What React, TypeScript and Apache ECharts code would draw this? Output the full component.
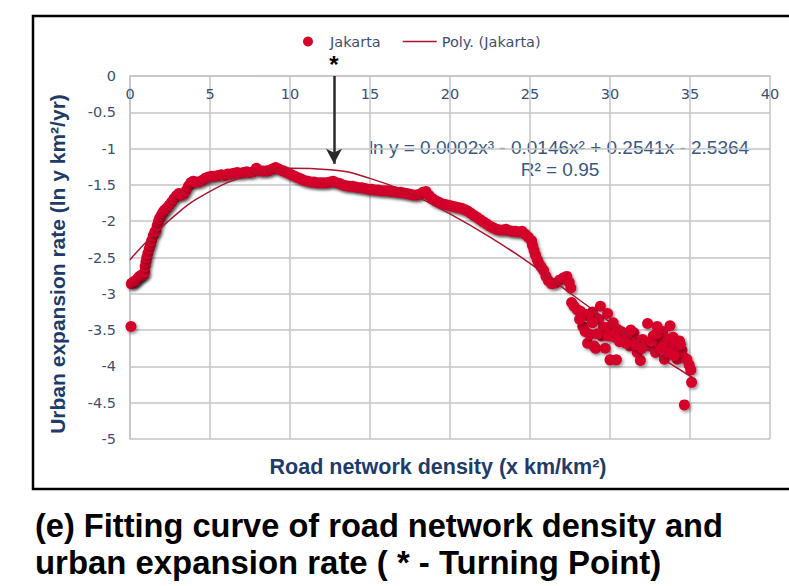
import React, { useEffect, useRef } from 'react';
import * as echarts from 'echarts';

// Scatter: road network density (x) vs ln urban expansion rate (y)
const roadDensity = [
  0.06, 0.08, 0.15, 0.25, 0.35, 0.45, 0.55, 0.65, 0.75, 0.85, 0.92,
  0.95, 1.0, 1.05, 1.12, 1.2, 1.28, 1.35, 1.45, 1.55, 1.62, 1.7, 1.78, 1.85, 1.95,
  2.05, 2.15, 2.3, 2.45, 2.6, 2.75, 2.9, 3.05, 3.2, 3.35, 3.5, 3.65, 3.8, 3.95,
  4.1, 4.3, 4.5, 4.7, 4.9, 5.1, 5.3, 5.5, 5.7, 5.9, 6.1, 6.3, 6.5, 6.7, 6.9,
  7.1, 7.3, 7.5, 7.7, 7.9, 8.1, 8.3, 8.5, 8.7, 8.9, 9.1, 9.3, 9.5, 9.7, 9.9,
  10.1, 10.3, 10.5, 10.7, 10.9, 11.1, 11.3, 11.5, 11.7, 11.9, 12.1, 12.3, 12.5,
  12.7, 12.9, 13.1, 13.3, 13.5, 13.7, 13.9, 14.1, 14.3, 14.5, 14.7, 14.9, 15.1,
  15.3, 15.5, 15.7, 15.9, 16.1, 16.3, 16.5, 16.7, 16.9, 17.1, 17.3, 17.5, 17.7,
  17.9, 18.1, 18.3, 18.5, 18.7, 18.9, 19.1, 19.3, 19.5, 19.7, 19.9, 20.1, 20.3,
  20.5, 20.7, 20.9, 21.1, 21.3, 21.5, 21.7, 21.9, 22.1, 22.3, 22.5, 22.7, 22.9,
  23.1, 23.3, 23.5, 23.7, 23.9, 24.1, 24.3, 24.5, 24.7, 24.9, 25.1, 25.15, 25.25,
  25.35, 25.45, 25.55, 25.7, 25.85, 26.0, 26.15, 26.35, 26.6, 26.85, 27.1, 27.3,
  27.45, 27.55, 27.6, 27.75, 27.95, 28.15, 28.3, 28.45, 28.6, 28.75, 28.9, 29.0,
  29.1, 29.3, 29.4, 29.5, 29.6, 29.7, 29.85, 30.0, 30.0, 30.2, 30.4, 30.45, 30.7,
  30.9, 31.05, 31.25, 31.4, 31.5, 31.7, 31.9, 32.05, 32.2, 32.35, 32.5, 32.7,
  32.85, 32.95, 33.1, 33.3, 33.4, 33.55, 33.75, 33.8, 33.95, 34.1, 34.2, 34.35,
  34.5, 34.65, 34.8, 34.95, 35.05, 35.1, 34.65, 28.4, 28.6, 28.1,
  28.9, 29.2, 29.9, 30.3, 30.6, 31.0, 31.3, 31.6, 32.0, 32.6, 32.9, 33.2, 33.6, 34.0, 34.4
];
const expansionRate = [
  -3.45, -2.86, -2.85, -2.83, -2.82, -2.8, -2.77, -2.75, -2.74, -2.73, -2.7,
  -2.62, -2.56, -2.5, -2.44, -2.38, -2.32, -2.27, -2.2, -2.15, -2.13, -2.06, -2.0, -1.96, -1.92,
  -1.88, -1.85, -1.82, -1.78, -1.74, -1.69, -1.65, -1.62, -1.64, -1.63, -1.58, -1.52, -1.47, -1.45,
  -1.46, -1.46, -1.44, -1.41, -1.39, -1.38, -1.38, -1.37, -1.36, -1.37, -1.35, -1.35, -1.34, -1.33, -1.34,
  -1.33, -1.32, -1.33, -1.32, -1.27, -1.31, -1.31, -1.31, -1.3, -1.28, -1.26, -1.28, -1.3, -1.32, -1.34,
  -1.36, -1.38, -1.4, -1.42, -1.44, -1.45, -1.46, -1.46, -1.47, -1.47, -1.47, -1.47, -1.46,
  -1.45, -1.47, -1.48, -1.5, -1.51, -1.52, -1.52, -1.53, -1.54, -1.54, -1.55, -1.56, -1.56,
  -1.57, -1.57, -1.58, -1.58, -1.58, -1.59, -1.59, -1.6, -1.6, -1.61, -1.62, -1.63, -1.64,
  -1.64, -1.63, -1.6, -1.59, -1.65, -1.69, -1.72, -1.74, -1.76, -1.77, -1.78, -1.79, -1.8,
  -1.81, -1.82, -1.84, -1.86, -1.89, -1.92, -1.95, -1.98, -2.01, -2.04, -2.07, -2.09, -2.11,
  -2.12, -2.12, -2.11, -2.13, -2.14, -2.14, -2.15, -2.14, -2.18, -2.22, -2.27, -2.33, -2.4,
  -2.47, -2.53, -2.58, -2.63, -2.68, -2.76, -2.82, -2.86, -2.85, -2.81, -2.78, -2.76,
  -2.84, -2.92, -3.12, -3.17, -3.22, -3.24, -3.45, -3.52, -3.68, -3.56, -3.25, -3.72,
  -3.75, -3.35, -3.17, -3.58, -3.46, -3.75, -3.27, -3.45, -3.91, -3.4, -3.91, -3.49, -3.52,
  -3.59, -3.55, -3.72, -3.62, -3.54, -3.81, -3.92, -3.63, -3.68, -3.41, -3.72, -3.58,
  -3.81, -3.45, -3.66, -3.52, -3.9, -3.62, -3.44, -3.7, -3.6, -3.72, -3.9, -3.65,
  -3.78, -3.88, -3.9, -3.98, -4.05, -4.22, -4.53, -3.28, -3.3, -3.35,
  -3.4, -3.55, -3.58, -3.6, -3.66, -3.68, -3.5, -3.7, -3.75, -3.65, -3.55, -3.75, -3.8, -3.85, -3.7
];

// Polynomial trend line
const trendDensity = [0, 2.5, 5, 7.5, 10, 12.5, 15, 17.5, 20, 22.5, 25, 27.5, 30, 32.5, 35.2];
const trendRate = [-2.53, -1.98, -1.59, -1.37, -1.27, -1.29, -1.41, -1.62, -1.9, -2.22, -2.58, -2.99, -3.39, -3.78, -4.16];

// Turning point marker
const turningPoint = 12.75;
const arrowEnd = -1.21;

const tickColor = '#3C4F6E';
const navy = '#1F3B67';
const gridColor = '#C4C4C4';
const dotColor = '#D4062B';
const trendColor = '#A8152C';

export default function App() {
  const ref = useRef<HTMLDivElement>(null);
  useEffect(() => {
    const chart = echarts.init(ref.current!, null, { renderer: 'svg' });
    const scatterData = roadDensity.map((x, i) => [x, expansionRate[i]]);
    const trendData = trendDensity.map((x, i) => [x, trendRate[i]]);
    chart.setOption({
      animation: false,
      backgroundColor: '#ffffff',
      grid: { left: 130, top: 76, width: 640, height: 363, containLabel: false },
      legend: {
        left: 303,
        top: 34,
        padding: 0,
        itemWidth: 34,
        itemHeight: 10,
        itemGap: 22,
        textStyle: { fontFamily: 'DejaVu Sans', fontSize: 14.5, color: tickColor },
        data: [
          { name: 'Jakarta', icon: 'circle' },
          { name: 'Poly. (Jakarta)', icon: 'path://M0,0L40,0L40,2L0,2Z' },
        ],
      },
      xAxis: {
        type: 'value',
        min: 0,
        max: 40,
        interval: 5,
        position: 'top',
        axisLine: { show: true, lineStyle: { color: gridColor, width: 1.5 } },
        axisTick: { show: false },
        axisLabel: { inside: true, margin: 10, color: tickColor, fontFamily: 'DejaVu Sans', fontSize: 14.5 },
        splitLine: { show: true, lineStyle: { color: gridColor, width: 1.5 } },
      },
      yAxis: {
        type: 'value',
        min: -5,
        max: 0,
        interval: 0.5,
        axisLine: { show: true, lineStyle: { color: gridColor, width: 1.5 } },
        axisTick: { show: false },
        axisLabel: { margin: 14, color: tickColor, fontFamily: 'DejaVu Sans', fontSize: 14.5 },
        splitLine: { show: true, lineStyle: { color: gridColor, width: 1.5 } },
      },
      series: [
        {
          name: 'Jakarta',
          type: 'scatter',
          data: scatterData,
          symbolSize: 11,
          z: 2,
          itemStyle: {
            color: dotColor,
            opacity: 1,
            shadowColor: 'rgba(0,0,0,0.4)',
            shadowBlur: 3,
            shadowOffsetX: 1.5,
            shadowOffsetY: 2,
          },
          emphasis: { disabled: true },
        },
        {
          name: 'Poly. (Jakarta)',
          type: 'line',
          data: trendData,
          smooth: true,
          symbol: 'none',
          z: 3,
          itemStyle: { color: trendColor },
          lineStyle: { color: trendColor, width: 1.5 },
          emphasis: { disabled: true },
          markLine: {
            silent: true,
            symbol: ['none', 'arrow'],
            symbolSize: [12, 15],
            lineStyle: { color: '#2A2A2A', width: 2.5, type: 'solid' },
            label: {
              show: true,
              position: 'start',
              formatter: '*',
              distance: 0,
              color: '#000000',
              fontSize: 24,
              fontWeight: 'bold',
              fontFamily: 'Liberation Sans',
            },
            data: [[{ coord: [turningPoint, 0] }, { coord: [turningPoint, arrowEnd] }]],
          },
        },
      ],
      graphic: [
        {
          type: 'rect',
          silent: true,
          shape: { x: 33, y: 16, width: 800, height: 473 },
          style: { fill: 'none', stroke: '#000000', lineWidth: 2.5 },
        },
        {
          type: 'text',
          x: 57,
          y: 264,
          rotation: Math.PI / 2,
          style: {
            text: 'Urban expansion rate (ln y km²/yr)',
            font: 'bold 21px "Liberation Sans"',
            fill: navy,
            textAlign: 'center',
            textVerticalAlign: 'middle',
          },
        },
        {
          type: 'text',
          x: 438,
          y: 467,
          style: {
            text: 'Road network density (x km/km²)',
            font: 'bold 21.5px "Liberation Sans"',
            fill: navy,
            textAlign: 'center',
            textVerticalAlign: 'middle',
          },
        },
        {
          type: 'text',
          x: 559,
          y: 147,
          style: {
            text: 'ln y = 0.0002x³ - 0.0146x² + 0.2541x - 2.5364',
            font: '19px "Liberation Sans"',
            fill: '#3A5781',
            textAlign: 'center',
            textVerticalAlign: 'middle',
          },
        },
        {
          type: 'text',
          x: 560,
          y: 169,
          style: {
            text: 'R² = 0.95',
            font: '19px "Liberation Sans"',
            fill: '#3A5781',
            textAlign: 'center',
            textVerticalAlign: 'middle',
          },
        },
        {
          type: 'text',
          x: 35,
          y: 525,
          style: {
            text: '(e) Fitting curve of road network density and',
            font: 'bold 32.6px "Liberation Sans"',
            fill: '#000000',
            textAlign: 'left',
            textVerticalAlign: 'middle',
          },
        },
        {
          type: 'text',
          x: 35,
          y: 562,
          style: {
            text: 'urban expansion rate ( * - Turning Point)',
            font: 'bold 32.9px "Liberation Sans"',
            fill: '#000000',
            textAlign: 'left',
            textVerticalAlign: 'middle',
          },
        },
      ],
    });
    return () => chart.dispose();
  }, []);
  return <div ref={ref} style={{ position: 'absolute', left: 0, top: 0, width: 789, height: 586 }} />;
}
